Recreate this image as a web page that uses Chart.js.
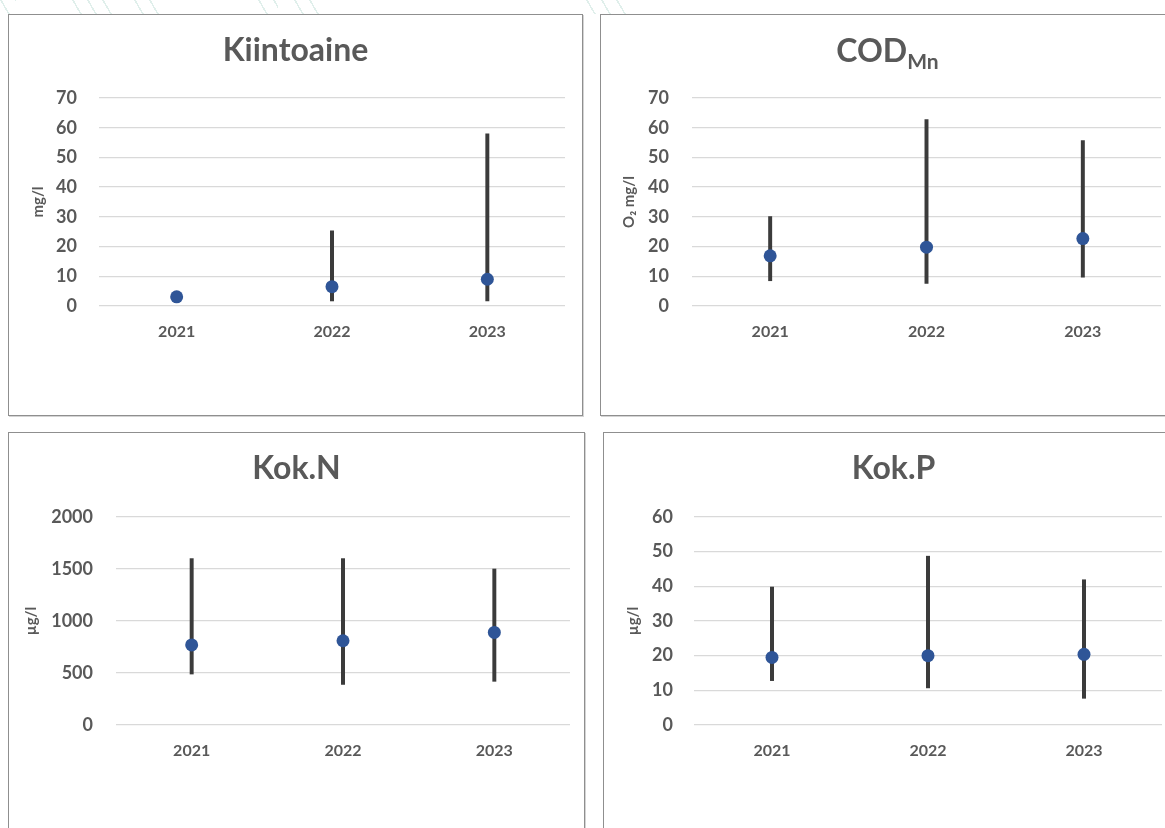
<!DOCTYPE html>
<html>
<head>
<meta charset="utf-8">
<script src="https://cdn.jsdelivr.net/npm/chart.js@4.4.1/dist/chart.umd.min.js"></script>
<style>
  html, body { margin: 0; padding: 0; background: #fff; }
  body { width: 1165px; height: 828px; position: relative; overflow: hidden; font-family: Lato, "Open Sans", sans-serif; }
  .panel { position: absolute; box-sizing: border-box; border: 1px solid #8f8f8f; box-shadow: 1px 1px 0 #d4d4d4; background: #fff; }
  .panel canvas { position: absolute; left: 0; top: 0; }
  .title { position: absolute; text-align: center; font: bold 32px/38px Lato, sans-serif; color: #595959; white-space: nowrap; }
  .title sub { font-size: 21px; vertical-align: -7px; line-height: 0; }
  .hatch { position: absolute; top: 0; height: 14px;
           background: repeating-linear-gradient(60deg, transparent 0 7px, #d8ebe6 7px 8.5px, transparent 8.5px 13px); opacity: 0.8; }
</style>
</head>
<body>
<div class="hatch" style="left:0;width:16px"></div>
<div class="hatch" style="left:72px;width:44px"></div>
<div class="hatch" style="left:134px;width:26px"></div>
<div class="hatch" style="left:258px;width:20px"></div>
<div class="hatch" style="left:294px;width:30px"></div>
<div class="hatch" style="left:586px;width:40px"></div>

<div class="panel" style="left:8px;top:14px;width:575px;height:402px"><canvas id="c1" width="573" height="400"></canvas></div>
<div class="panel" style="left:600px;top:14px;width:575px;height:402px"><canvas id="c2" width="573" height="400"></canvas></div>
<div class="panel" style="left:8px;top:432px;width:577px;height:402px"><canvas id="c3" width="575" height="400"></canvas></div>
<div class="panel" style="left:603px;top:432px;width:575px;height:402px"><canvas id="c4" width="573" height="400"></canvas></div>

<div class="title" style="left:8px;width:575px;top:30px">Kiintoaine</div>
<div class="title" style="left:600px;width:575px;top:31px">COD<sub>Mn</sub></div>
<div class="title" style="left:8px;width:577px;top:448px">Kok.N</div>
<div class="title" style="left:606px;width:575px;top:448px">Kok.P</div>

<script>
// Sampling years
const years = ['2021', '2022', '2023'];

// Suspended solids (mg/l): mean, min, max
const kiintoaineMean = [3.1, 6.5, 9.0];
const kiintoaineMin  = [null, 1.7, 1.7];
const kiintoaineMax  = [null, 25.3, 57.9];

// COD_Mn (O2 mg/l)
const codMean = [16.9, 19.8, 22.7];
const codMin  = [8.5, 7.6, 9.7];
const codMax  = [30.1, 62.7, 55.7];

// Total nitrogen (µg/l)
const kokNMean = [770, 810, 890];
const kokNMin  = [490, 390, 420];
const kokNMax  = [1600, 1600, 1500];

// Total phosphorus (µg/l)
const kokPMean = [19.5, 20.0, 20.4];
const kokPMin  = [12.8, 10.7, 7.7];
const kokPMax  = [39.8, 48.7, 41.9];

const TEXT = '#595959';
const GRID = '#d9d9d9';
const DOT = '#2F5597';
const BAR = '#3b3b3b';

function ranges(mins, maxs) {
  return mins.map((lo, i) => (lo === null || maxs[i] === null) ? null : [lo, maxs[i]]);
}

function makeChart(id, cfg) {
  new Chart(document.getElementById(id), {
    data: {
      labels: years,
      datasets: [
        {
          type: 'line',
          data: cfg.mean,
          showLine: false,
          pointRadius: 6.5,
          pointHoverRadius: 6.5,
          pointBackgroundColor: DOT,
          pointBorderColor: DOT,
          pointBorderWidth: 0,
          order: 0
        },
        {
          type: 'bar',
          data: ranges(cfg.min, cfg.max),
          backgroundColor: BAR,
          borderWidth: 0,
          barThickness: 3.3,
          grouped: false,
          order: 1
        }
      ]
    },
    options: {
      responsive: false,
      animation: false,
      events: [],
      layout: { padding: { top: cfg.top, right: cfg.right, left: 0, bottom: 0 } },
      plugins: { legend: { display: false }, tooltip: { enabled: false }, title: { display: false } },
      scales: {
        x: {
          type: 'category',
          offset: true,
          grid: { display: false, drawTicks: false },
          border: { display: false },
          ticks: { color: TEXT, font: { family: 'Lato', size: 16, weight: 'bold' }, padding: 16, maxRotation: 0 },
          afterFit: s => { s.height = cfg.xh; }
        },
        y: {
          min: 0,
          max: cfg.max_,
          ticks: {
            stepSize: cfg.step,
            color: TEXT,
            font: { family: 'Lato', size: 18, weight: 'bold' },
            padding: cfg.tickPad,
            callback: v => String(v)
          },
          grid: { color: GRID, lineWidth: 1.3, drawTicks: false },
          border: { display: false },
          title: {
            display: true,
            text: cfg.unit,
            color: TEXT,
            font: { family: 'Lato', size: 15, weight: 'bold' },
            padding: { top: cfg.titleX - 9, bottom: 0 }
          },
          afterFit: s => { s.width = cfg.yw; }
        }
      }
    }
  });
}

makeChart('c1', { mean: kiintoaineMean, min: kiintoaineMin, max: kiintoaineMax, max_: 70, step: 10, unit: 'mg/l',
  top: 83, right: 17, xh: 109, yw: 90, tickPad: 22, titleX: 29 });
makeChart('c2', { mean: codMean, min: codMin, max: codMax, max_: 70, step: 10, unit: 'O₂ mg/l',
  top: 83, right: 13, xh: 109, yw: 91, tickPad: 23, titleX: 28 });
makeChart('c3', { mean: kokNMean, min: kokNMin, max: kokNMax, max_: 2000, step: 500, unit: 'µg/l',
  top: 84, right: 14, xh: 108, yw: 107, tickPad: 23, titleX: 22 });
makeChart('c4', { mean: kokPMean, min: kokPMin, max: kokPMax, max_: 60, step: 10, unit: 'µg/l',
  top: 84, right: 15, xh: 108, yw: 90, tickPad: 21, titleX: 29 });
</script>
</body>
</html>
